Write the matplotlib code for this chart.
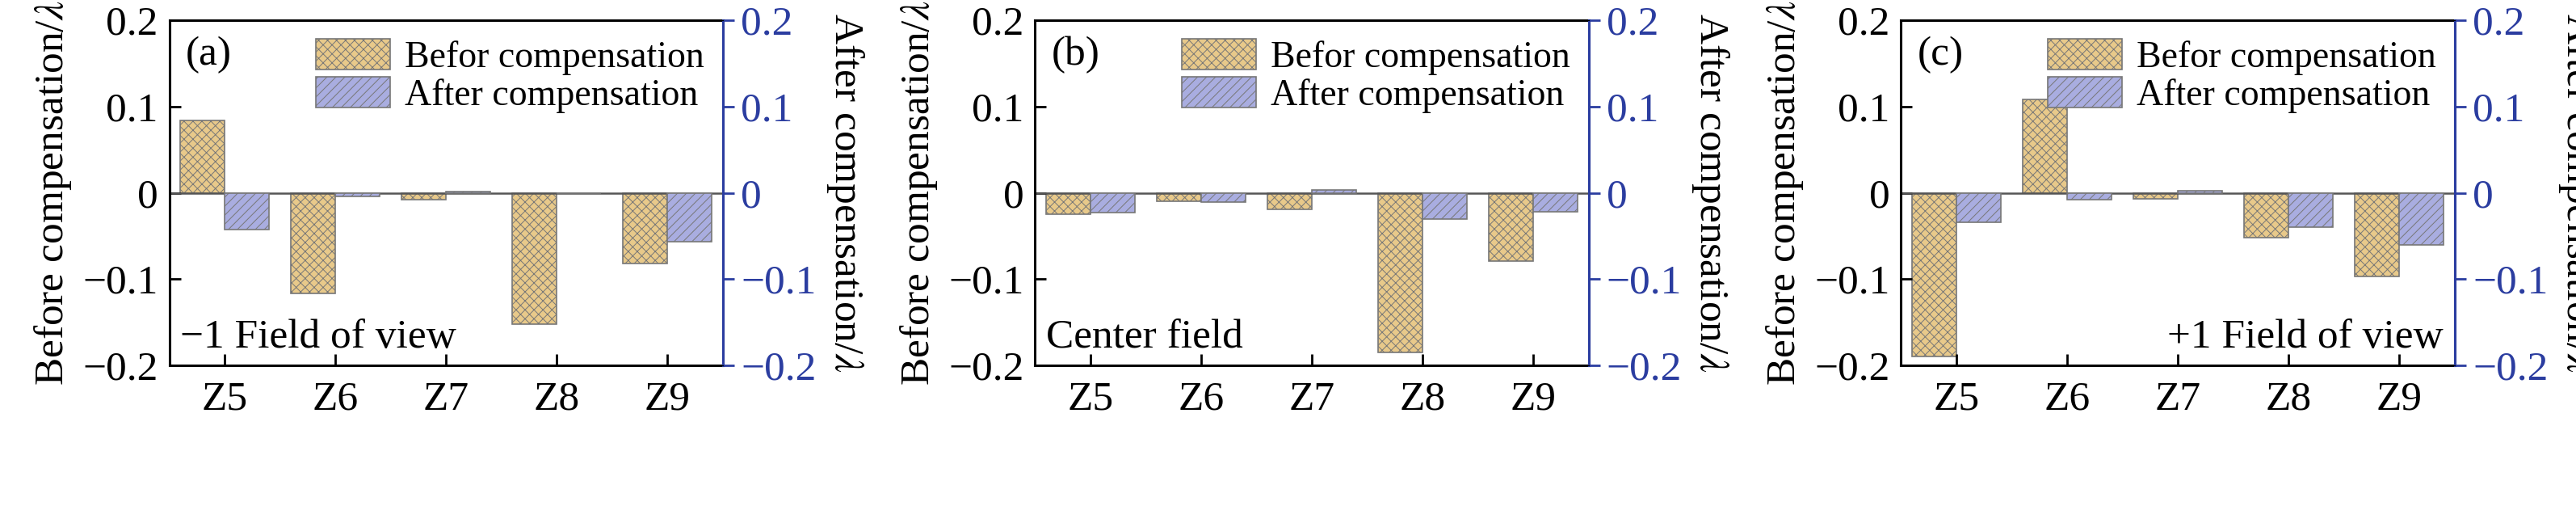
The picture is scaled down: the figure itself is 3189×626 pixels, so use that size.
import numpy as np
import matplotlib
matplotlib.use('Agg')
import matplotlib.pyplot as plt

plt.rcParams['font.family'] = ['Liberation Serif', 'DejaVu Serif']
plt.rcParams['mathtext.fontset'] = 'stix'
plt.rcParams['hatch.linewidth'] = 0.7
plt.rcParams['hatch.color'] = '#555555'

terms = ['Z5', 'Z6', 'Z7', 'Z8', 'Z9']
before_a = [0.084, -0.117, -0.008, -0.152, -0.082]
after_a = [-0.043, -0.004, 0.001, 0.0, -0.057]
before_b = [-0.025, -0.010, -0.019, -0.185, -0.079]
after_b = [-0.023, -0.011, 0.003, -0.030, -0.022]
before_c = [-0.190, 0.108, -0.007, -0.052, -0.097]
after_c = [-0.034, -0.008, 0.002, -0.040, -0.060]
tags = ['(a)', '(b)', '(c)']
fields = ['\u22121 Field of view', 'Center field', '+1 Field of view']

blue = '#2B3DA0'
fs = 37
fig = plt.figure(figsize=(31.89, 6.26), dpi=100)
lefts = [0.0657, 0.4018, 0.738]
width = 0.2149
panels = [(before_a, after_a), (before_b, after_b), (before_c, after_c)]
x = np.arange(len(terms))
w = 0.4
for i, (bef, aft) in enumerate(panels):
    ax = fig.add_axes([lefts[i], 0.278, width, 0.682])
    ax2 = ax.twinx()
    ax.bar(x - w / 2, bef, w, color='#E8C98A', edgecolor='#777777', hatch='xxx',
           linewidth=1.2, label='Befor compensation')
    ax2.bar(x + w / 2, aft, w, color='#A9ADE0', edgecolor='#777777', hatch='///',
            linewidth=1.2, label='After compensation')
    ax.axhline(0, color='#555555', lw=1.8)
    for a in (ax, ax2):
        a.set_ylim(-0.2, 0.2)
        a.set_yticks([-0.2, -0.1, 0, 0.1, 0.2])
        a.set_yticklabels(['\u22120.2', '\u22120.1', '0', '0.1', '0.2'])
        a.tick_params(labelsize=fs, width=2, length=10, direction='in')
    ax.set_xlim(-0.5, 4.5)
    ax.set_xticks(x)
    ax.set_xticklabels(terms)
    ax.tick_params(axis='x', pad=14)
    ax.tick_params(axis='y', right=False, pad=10)
    ax2.tick_params(axis='y', colors=blue, direction='out', length=10, pad=6)
    ax2.spines['right'].set_color(blue)
    for s in ax.spines.values():
        s.set_linewidth(2.2)
    ax2.spines['right'].set_linewidth(2.2)
    ax.set_ylabel('Before compensation/$\\lambda$', fontsize=fs, labelpad=8)
    ax2.set_ylabel('After compensation/$\\lambda$', fontsize=fs, rotation=270, labelpad=44)
    ax.text(0.03, 0.90, tags[i], transform=ax.transAxes, fontsize=fs, va='center')
    if i == 2:
        ax.text(0.98, 0.08, fields[i], transform=ax.transAxes, fontsize=fs, va='center', ha='right')
    else:
        ax.text(0.02, 0.08, fields[i], transform=ax.transAxes, fontsize=fs, va='center')
    h1, l1 = ax.get_legend_handles_labels()
    h2, l2 = ax2.get_legend_handles_labels()
    ax2.legend(h1 + h2, l1 + l2, loc='upper right', fontsize=33, frameon=False,
               handlelength=2.0, handleheight=0.9, borderaxespad=0.1, labelspacing=0.05,
               handletextpad=0.4)

fig.savefig('out.png', dpi=100)
